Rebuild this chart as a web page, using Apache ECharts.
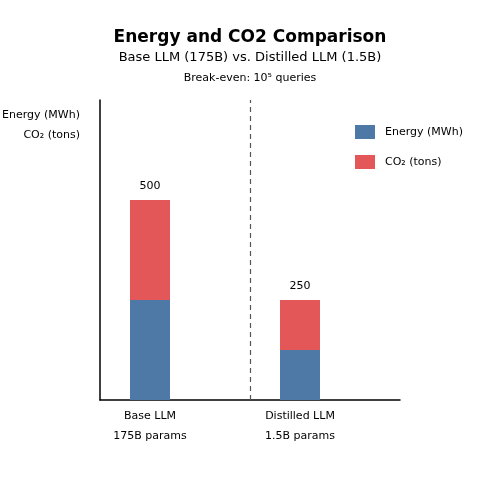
<!DOCTYPE html>
<html><head><meta charset="utf-8">
<script src="https://cdn.jsdelivr.net/npm/echarts@6/dist/echarts.min.js"></script>
<style>body{margin:0}#c{width:500px;height:500px}</style></head>
<body><div id="c"></div>
<script>
const categories = ["Base LLM\n175B params", "Distilled LLM\n1.5B params"];
const slots = ["", categories[0], "", "", categories[1], "", ""];
const barSlots = [1, 4];
const energy = [250, 125];
const co2 = [250, 125];
const totals = [500, 250];
const breakEvenSlot = 3;

function toSlots(vals) {
  return slots.map((s, k) => { const i = barSlots.indexOf(k); return i >= 0 ? vals[i] : '-'; });
}

const F = "DejaVu Sans";
const chart = echarts.init(document.getElementById('c'));
chart.setOption({
  animation: false,
  textStyle: {fontFamily: F},
  title: [
    {text: "Energy and CO2 Comparison", left: 'center', top: 24, textStyle: {fontSize: 17, fontWeight: 'bold', color: '#000', fontFamily: F}},
    {text: "Base LLM (175B) vs. Distilled LLM (1.5B)", left: 'center', top: 46, textStyle: {fontSize: 13, fontWeight: 'normal', color: '#000', fontFamily: F}},
    {text: "Break-even: 10⁵ queries", left: 'center', top: 68, textStyle: {fontSize: 11, fontWeight: 'normal', color: '#000', fontFamily: F}}
  ],
  legend: {
    left: 350, top: 120, orient: 'vertical', itemGap: 16, itemWidth: 20, itemHeight: 14,
    icon: 'rect', textStyle: {fontSize: 11, color: '#000', fontFamily: F, padding: [0, 0, 0, 5]},
    data: ["Energy (MWh)", "CO₂ (tons)"]
  },
  graphic: [
    {type: 'text', right: 420, top: 110, style: {text: "Energy (MWh)", fontSize: 11, fill: '#000', fontFamily: F, textAlign: 'right'}},
    {type: 'text', right: 420, top: 130, style: {text: "CO₂ (tons)", fontSize: 11, fill: '#000', fontFamily: F, textAlign: 'right'}}
  ],
  grid: {left: 100, right: 100, top: 100, bottom: 100},
  xAxis: {
    type: 'category', data: slots, boundaryGap: false,
    splitLine: {show: false}, axisTick: {show: false},
    axisLine: {show: true, lineStyle: {color: '#000', width: 1.5}},
    axisLabel: {interval: 0, fontSize: 11, color: '#000', lineHeight: 20, margin: 6, fontFamily: F}
  },
  yAxis: {
    type: 'value', min: 0, max: 750,
    splitLine: {show: false}, axisTick: {show: false}, axisLabel: {show: false},
    axisLine: {show: true, lineStyle: {color: '#000', width: 1.5}}
  },
  series: [
    {
      name: "Energy (MWh)", type: 'bar', stack: 's', barWidth: 40,
      itemStyle: {color: '#4e79a7'},
      data: toSlots(energy),
      markLine: {
        silent: true, symbol: 'none', label: {show: false},
        lineStyle: {type: [5, 4], color: '#555', width: 1.2},
        data: [{xAxis: breakEvenSlot}]
      }
    },
    {
      name: "CO₂ (tons)", type: 'bar', stack: 's', barWidth: 40,
      itemStyle: {color: '#e45759'},
      data: toSlots(co2),
      label: {show: true, position: 'top', distance: 8, fontSize: 11, color: '#000', fontFamily: F,
        formatter: p => String(totals[barSlots.indexOf(p.dataIndex)])}
    }
  ]
});
</script></body></html>
